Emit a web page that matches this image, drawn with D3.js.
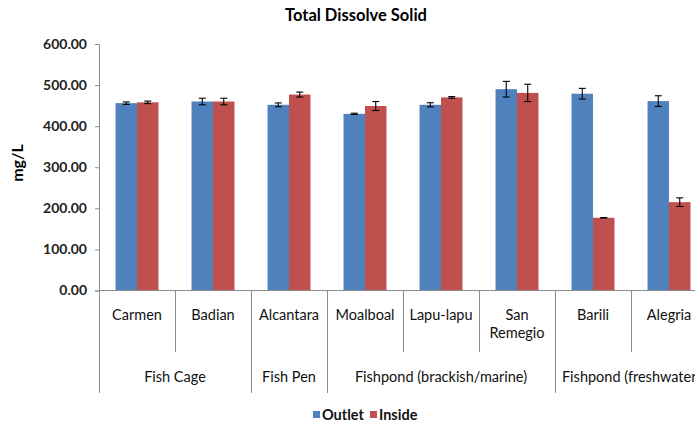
<!DOCTYPE html>
<html><head><meta charset="utf-8">
<script src="https://cdn.jsdelivr.net/npm/d3@7"></script>
<style>body{margin:0;background:#fff;overflow:hidden}svg{display:block;font-family:Lato,"Open Sans",sans-serif}</style>
</head><body><svg id="c" width="695" height="425"></svg>
<script>
const categories = ["Carmen","Badian","Alcantara","Moalboal","Lapu-lapu","San Remegio","Barili","Alegria"];
const groups = [
  {name:"Fish Cage", members:["Carmen","Badian"]},
  {name:"Fish Pen", members:["Alcantara"]},
  {name:"Fishpond (brackish/marine)", members:["Moalboal","Lapu-lapu","San Remegio"]},
  {name:"Fishpond (freshwater)", members:["Barili","Alegria"]}
];
const outlet = [456, 460, 452, 430, 452, 490, 479, 461];
const outletErr = [3, 8, 4.5, 1.5, 5, 19, 13, 13];
const inside = [458, 460, 477, 449, 470, 481, 177, 215];
const insideErr = [3, 8, 6, 11, 2, 21, 0.5, 10.5];
const series = ["Outlet","Inside"];
const colors = ["#4F81BD","#C0504D"];
const yTicks = [0,100,200,300,400,500,600];

const svg = d3.select("#c");
const x0 = 99, x1 = 707, yTop = 44, yBot = 290.5;
const x = d3.scaleBand().domain(categories).range([x0,x1]).paddingInner(0).paddingOuter(0);
const xs = d3.scaleBand().domain(series).range([0,x.bandwidth()]).paddingInner(0).paddingOuter(0.77);
const y = d3.scaleLinear().domain([0,600]).range([yBot,yTop]);
const axisColor = "#8c8c8c";

// title
svg.append("text").attr("x",356).attr("y",21).attr("text-anchor","middle")
  .attr("font-size",16.5).attr("font-weight","bold").attr("fill","#000").text("Total Dissolve Solid");

// y axis
const ya = svg.append("g").attr("transform",`translate(${x0},0)`)
  .call(d3.axisLeft(y).tickValues(yTicks).tickFormat(d3.format(".2f")).tickSize(4).tickPadding(8));
ya.select(".domain").attr("stroke",axisColor);
ya.selectAll(".tick line").attr("stroke",axisColor);
ya.selectAll(".tick text").attr("font-size",14).attr("font-weight","bold").attr("fill","#222").attr("font-family","Lato");

svg.append("text").attr("transform","translate(23,163) rotate(-90)").attr("text-anchor","middle")
  .attr("font-size",16).attr("font-weight","bold").attr("fill","#000").text("mg/L");

// bars
const data = categories.map((c,i)=>({c, vals:[{s:"Outlet",v:outlet[i],e:outletErr[i]},{s:"Inside",v:inside[i],e:insideErr[i]}]}));
const g = svg.append("g");
const cg = g.selectAll("g.cat").data(data).join("g").attr("transform",d=>`translate(${x(d.c)},0)`);
cg.selectAll("rect").data(d=>d.vals).join("rect")
  .attr("x",d=>xs(d.s)).attr("width",xs.bandwidth())
  .attr("y",d=>y(d.v)).attr("height",d=>yBot-y(d.v))
  .attr("fill",(d,i)=>colors[i]);
// error bars
const eb = cg.selectAll("g.err").data(d=>d.vals).join("g").attr("stroke","#000").attr("stroke-width",1.1);
eb.append("line").attr("x1",d=>xs(d.s)+xs.bandwidth()/2).attr("x2",d=>xs(d.s)+xs.bandwidth()/2)
  .attr("y1",d=>y(d.v+d.e)).attr("y2",d=>y(d.v-d.e));
eb.append("line").attr("x1",d=>xs(d.s)+xs.bandwidth()/2-3.5).attr("x2",d=>xs(d.s)+xs.bandwidth()/2+3.5)
  .attr("y1",d=>y(d.v+d.e)).attr("y2",d=>y(d.v+d.e));
eb.append("line").attr("x1",d=>xs(d.s)+xs.bandwidth()/2-3.5).attr("x2",d=>xs(d.s)+xs.bandwidth()/2+3.5)
  .attr("y1",d=>y(d.v-d.e)).attr("y2",d=>y(d.v-d.e));

// x axis baseline
svg.append("line").attr("x1",x0).attr("x2",x1).attr("y1",yBot).attr("y2",yBot).attr("stroke",axisColor);

// separators
let gStarts = [];
groups.forEach(gr=>{ gStarts.push(x(gr.members[0])); });
gStarts.push(x1);
const catBounds = categories.map(c=>x(c)).concat([x1]);
catBounds.forEach(b=>{
  const isGroup = gStarts.some(s=>Math.abs(s-b)<0.5);
  svg.append("line").attr("x1",Math.round(b)+0.5).attr("x2",Math.round(b)+0.5)
    .attr("y1",yBot).attr("y2",isGroup?393:352).attr("stroke",axisColor);
});

// category labels
const labLines = {"San Remegio":["San","Remegio"]};
categories.forEach(c=>{
  const lines = labLines[c] || [c];
  const t = svg.append("text").attr("x",x(c)+x.bandwidth()/2).attr("y",320)
    .attr("text-anchor","middle").attr("font-size",14.5).attr("fill","#111");
  lines.forEach((l,i)=>t.append("tspan").attr("x",x(c)+x.bandwidth()/2).attr("dy",i?18:0).text(l));
});
// group labels
groups.forEach(gr=>{
  const a = x(gr.members[0]), b = x(gr.members[gr.members.length-1])+x.bandwidth();
  svg.append("text").attr("x",(a+b)/2).attr("y",382).attr("text-anchor","middle")
    .attr("font-size",14.5).attr("fill","#111").text(gr.name);
});

// legend
const lg = svg.append("g");
const legItems = [{s:"Outlet",x:313},{s:"Inside",x:370}];
legItems.forEach((it,i)=>{
  lg.append("rect").attr("x",it.x).attr("y",411).attr("width",7).attr("height",7).attr("fill",colors[i]);
  lg.append("text").attr("x",it.x+9).attr("y",419.5).attr("font-size",14.5).attr("font-weight","bold").attr("fill","#111").text(it.s);
});
</script></body></html>
